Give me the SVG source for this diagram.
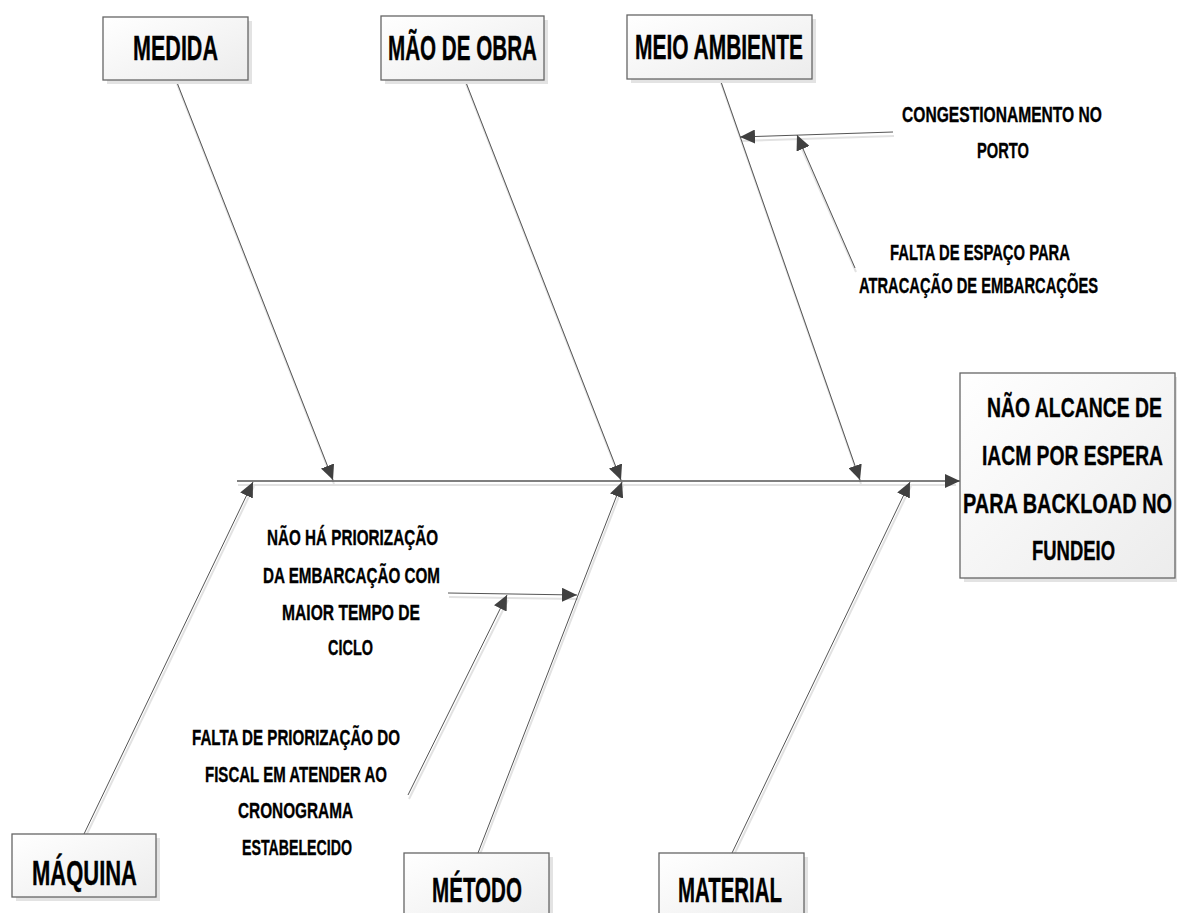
<svg xmlns="http://www.w3.org/2000/svg" width="1177" height="913" viewBox="0 0 1177 913">
  <defs>
    <linearGradient id="boxFill" x1="0" y1="0" x2="1" y2="1">
      <stop offset="0" stop-color="#ffffff"/>
      <stop offset="1" stop-color="#ececec"/>
    </linearGradient>
    <marker id="arrow" markerUnits="userSpaceOnUse" markerWidth="16" markerHeight="14" refX="15" refY="7" orient="auto">
      <path d="M0,0 L15,7 L0,14 z" fill="#404040"/>
    </marker>
    <style>
      .box { fill: url(#boxFill); stroke: #666666; stroke-width: 1.3; }
      .shadow { fill: #e3e3e3; }
      .line { stroke: #555555; stroke-width: 1; fill: none; marker-end: url(#arrow); }
      .spine { stroke-width: 1.6; }
      .lineShadow { stroke: #e2e2e2; stroke-width: 2; fill: none; }
      text { font-family: "Liberation Sans", Arial, sans-serif; font-weight: bold; fill: #000000; stroke: #000000; stroke-width: 0.35; }
      .cat { font-size: 35px; }
      .effect { font-size: 27px; }
      .cause { font-size: 22px; }
    </style>
  </defs>

  <rect width="1177" height="913" fill="#ffffff"/>

  <!-- connectors: soft shadows first, then the arrows -->
  <g id="connectors">
    <g id="connector-shadows" transform="translate(1,4)">
      <line class="lineShadow" x1="237" y1="481" x2="955" y2="481"/>
      <line class="lineShadow" x1="176" y1="80" x2="333" y2="480"/>
      <line class="lineShadow" x1="465" y1="80" x2="621" y2="480"/>
      <line class="lineShadow" x1="720" y1="79" x2="860" y2="480"/>
      <line class="lineShadow" x1="84" y1="834" x2="253" y2="482"/>
      <line class="lineShadow" x1="478" y1="853" x2="622" y2="482"/>
      <line class="lineShadow" x1="732" y1="853" x2="910" y2="482"/>
      <line class="lineShadow" x1="893" y1="132" x2="740" y2="137"/>
      <line class="lineShadow" x1="855" y1="268" x2="797" y2="136"/>
      <line class="lineShadow" x1="448" y1="593" x2="577" y2="595"/>
      <line class="lineShadow" x1="408" y1="795" x2="507" y2="596"/>
    </g>
    <line id="spine" class="line spine" x1="237" y1="481" x2="960" y2="481"/>
    <line id="bone-medida" class="line" x1="176" y1="80" x2="333" y2="480"/>
    <line id="bone-mao-de-obra" class="line" x1="465" y1="80" x2="621" y2="480"/>
    <line id="bone-meio-ambiente" class="line" x1="720" y1="79" x2="860" y2="480"/>
    <line id="bone-maquina" class="line" x1="84" y1="834" x2="253" y2="482"/>
    <line id="bone-metodo" class="line" x1="478" y1="853" x2="622" y2="482"/>
    <line id="bone-material" class="line" x1="732" y1="853" x2="910" y2="482"/>
    <line id="sub-congestionamento" class="line" x1="893" y1="132" x2="740" y2="137"/>
    <line id="sub-falta-espaco" class="line" x1="855" y1="268" x2="797" y2="135"/>
    <line id="sub-nao-ha-priorizacao" class="line" x1="448" y1="593" x2="577" y2="595"/>
    <line id="sub-falta-priorizacao" class="line" x1="408" y1="795" x2="507" y2="595"/>
  </g>

  <!-- category boxes -->
  <g id="node-medida">
    <rect class="shadow" x="107" y="21" width="145" height="63"/>
    <rect class="box" x="103" y="17" width="145" height="63"/>
    <text class="cat" x="133" y="60" textLength="85" lengthAdjust="spacingAndGlyphs">MEDIDA</text>
  </g>
  <g id="node-mao-de-obra">
    <rect class="shadow" x="385" y="20" width="163" height="64"/>
    <rect class="box" x="381" y="16" width="163" height="64"/>
    <text class="cat" x="388" y="60" textLength="149" lengthAdjust="spacingAndGlyphs">MÃO DE OBRA</text>
  </g>
  <g id="node-meio-ambiente">
    <rect class="shadow" x="631" y="19" width="185" height="64"/>
    <rect class="box" x="627" y="15" width="185" height="64"/>
    <text class="cat" x="635" y="59" textLength="168" lengthAdjust="spacingAndGlyphs">MEIO AMBIENTE</text>
  </g>
  <g id="node-maquina">
    <rect class="shadow" x="16" y="838" width="144" height="63"/>
    <rect class="box" x="12" y="834" width="144" height="63"/>
    <text class="cat" x="32" y="885" textLength="105" lengthAdjust="spacingAndGlyphs">MÁQUINA</text>
  </g>
  <g id="node-metodo">
    <rect class="shadow" x="408" y="857" width="145" height="70"/>
    <rect class="box" x="404" y="853" width="145" height="70"/>
    <text class="cat" x="432" y="902" textLength="90" lengthAdjust="spacingAndGlyphs">MÉTODO</text>
  </g>
  <g id="node-material">
    <rect class="shadow" x="663" y="857" width="145" height="70"/>
    <rect class="box" x="659" y="853" width="145" height="70"/>
    <text class="cat" x="678" y="902" textLength="104" lengthAdjust="spacingAndGlyphs">MATERIAL</text>
  </g>

  <!-- effect box at the right edge -->
  <g id="node-efeito">
    <rect class="shadow" x="964" y="377" width="213" height="205"/>
    <rect class="box" x="960" y="373" width="215" height="205"/>
    <text class="effect" x="987" y="417" textLength="175" lengthAdjust="spacingAndGlyphs">NÃO ALCANCE DE</text>
    <text class="effect" x="982" y="465" textLength="181" lengthAdjust="spacingAndGlyphs">IACM POR ESPERA</text>
    <text class="effect" x="963" y="513" textLength="209" lengthAdjust="spacingAndGlyphs">PARA BACKLOAD NO</text>
    <text class="effect" x="1032" y="560" textLength="83" lengthAdjust="spacingAndGlyphs">FUNDEIO</text>
  </g>

  <!-- cause labels -->
  <g id="node-congestionamento">
    <text class="cause" x="902" y="122" textLength="200" lengthAdjust="spacingAndGlyphs">CONGESTIONAMENTO NO</text>
    <text class="cause" x="977" y="158" textLength="52" lengthAdjust="spacingAndGlyphs">PORTO</text>
  </g>
  <g id="node-falta-espaco">
    <text class="cause" x="890" y="260" textLength="180" lengthAdjust="spacingAndGlyphs">FALTA DE ESPAÇO PARA</text>
    <text class="cause" x="859" y="293" textLength="239" lengthAdjust="spacingAndGlyphs">ATRACAÇÃO DE EMBARCAÇÕES</text>
  </g>
  <g id="node-nao-ha-priorizacao">
    <text class="cause" x="267" y="545" textLength="171" lengthAdjust="spacingAndGlyphs">NÃO HÁ PRIORIZAÇÃO</text>
    <text class="cause" x="263" y="583" textLength="177" lengthAdjust="spacingAndGlyphs">DA EMBARCAÇÃO COM</text>
    <text class="cause" x="282" y="620" textLength="138" lengthAdjust="spacingAndGlyphs">MAIOR TEMPO DE</text>
    <text class="cause" x="328" y="655" textLength="45" lengthAdjust="spacingAndGlyphs">CICLO</text>
  </g>
  <g id="node-falta-priorizacao">
    <text class="cause" x="192" y="745" textLength="208" lengthAdjust="spacingAndGlyphs">FALTA DE PRIORIZAÇÃO DO</text>
    <text class="cause" x="205" y="782" textLength="182" lengthAdjust="spacingAndGlyphs">FISCAL EM ATENDER AO</text>
    <text class="cause" x="238" y="818" textLength="115" lengthAdjust="spacingAndGlyphs">CRONOGRAMA</text>
    <text class="cause" x="242" y="855" textLength="110" lengthAdjust="spacingAndGlyphs">ESTABELECIDO</text>
  </g>
</svg>
